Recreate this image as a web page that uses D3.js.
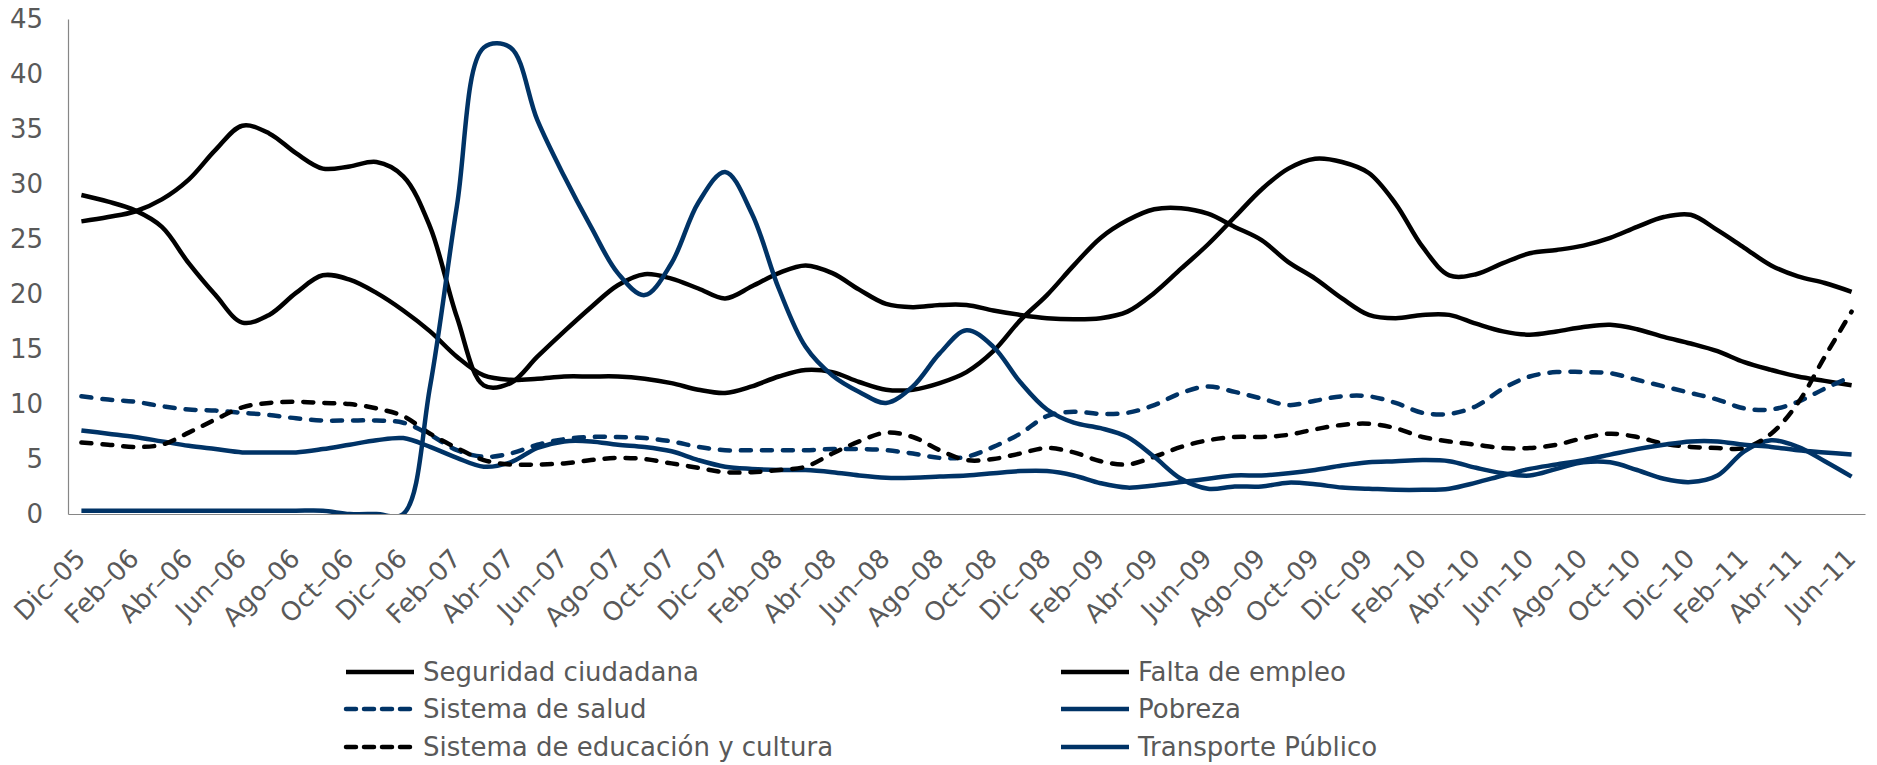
<!DOCTYPE html>
<html>
<head>
<meta charset="utf-8">
<script src="https://cdn.jsdelivr.net/npm/d3@7"></script>
<style>
  body { margin: 0; background: #fff; }
  text { font-family: "DejaVu Sans", sans-serif; }
</style>
</head>
<body>
<div id="chart"></div>
<script>
var width = 1877,
    height = 765,
    plotLeft = 68,
    plotRight = 1865,
    plotTop = 19,
    plotBottom = 514;

// monthly survey, Dic-05 .. Jun-11
var months = [
    "Dic–05",
    "Ene–06", "Feb–06", "Mar–06", "Abr–06", "May–06", "Jun–06", "Jul–06", "Ago–06", "Sep–06", "Oct–06", "Nov–06", "Dic–06",
    "Ene–07", "Feb–07", "Mar–07", "Abr–07", "May–07", "Jun–07", "Jul–07", "Ago–07", "Sep–07", "Oct–07", "Nov–07", "Dic–07",
    "Ene–08", "Feb–08", "Mar–08", "Abr–08", "May–08", "Jun–08", "Jul–08", "Ago–08", "Sep–08", "Oct–08", "Nov–08", "Dic–08",
    "Ene–09", "Feb–09", "Mar–09", "Abr–09", "May–09", "Jun–09", "Jul–09", "Ago–09", "Sep–09", "Oct–09", "Nov–09", "Dic–09",
    "Ene–10", "Feb–10", "Mar–10", "Abr–10", "May–10", "Jun–10", "Jul–10", "Ago–10", "Sep–10", "Oct–10", "Nov–10", "Dic–10",
    "Ene–11", "Feb–11", "Mar–11", "Abr–11", "May–11", "Jun–11"
];

var yTicks = [0, 5, 10, 15, 20, 25, 30, 35, 40, 45];

var seguridad = [26.6, 27.0, 27.5, 28.6, 30.4, 33.1, 35.3, 34.6, 32.8, 31.4,
    31.6, 32.0, 30.7, 26.1, 17.9, 11.7, 11.9, 14.3, 16.6, 18.8,
    20.8, 21.8, 21.4, 20.5, 19.6, 20.7, 21.9, 22.6, 21.9, 20.4,
    19.1, 18.8, 19.0, 19.0, 18.5, 18.1, 17.8, 17.7, 17.8, 18.4,
    20.1, 22.3, 24.5, 27.0, 29.5, 31.4, 32.3, 32.0, 31.0, 28.2,
    24.3, 21.7, 21.8, 22.8, 23.7, 24.0, 24.4, 25.1, 26.1, 27.0,
    27.2, 25.8, 24.2, 22.6, 21.6, 21.0, 20.2];

var falta = [29.0, 28.4, 27.6, 26.1, 22.8, 19.9, 17.4, 18.1, 20.1, 21.7,
    21.3, 20.1, 18.5, 16.6, 14.3, 12.6, 12.2, 12.3, 12.5, 12.5,
    12.5, 12.3, 11.9, 11.3, 11.0, 11.6, 12.5, 13.1, 12.9, 12.0,
    11.3, 11.3, 11.9, 12.9, 14.8, 17.6, 19.9, 22.6, 25.1, 26.7,
    27.7, 27.8, 27.3, 26.1, 24.9, 22.9, 21.4, 19.6, 18.1, 17.8,
    18.1, 18.1, 17.3, 16.6, 16.3, 16.6, 17.0, 17.2, 16.8, 16.1,
    15.5, 14.8, 13.8, 13.1, 12.5, 12.1, 11.7];

var salud = [10.7, 10.4, 10.2, 9.8, 9.5, 9.4, 9.2, 9.0, 8.7, 8.5,
    8.5, 8.5, 8.3, 7.2, 5.8, 5.2, 5.5, 6.3, 6.8, 7.0,
    7.0, 6.9, 6.6, 6.1, 5.8, 5.8, 5.8, 5.8, 5.9, 5.9,
    5.8, 5.5, 5.1, 5.2, 6.1, 7.3, 8.9, 9.3, 9.1, 9.2,
    9.9, 11.0, 11.6, 11.1, 10.5, 9.9, 10.3, 10.7, 10.7, 10.1,
    9.2, 9.1, 9.8, 11.4, 12.5, 12.9, 12.9, 12.8, 12.2, 11.6,
    11.0, 10.4, 9.6, 9.5, 10.2, 11.4, 12.5];

var pobreza = [7.6, 7.3, 7.0, 6.6, 6.2, 5.9, 5.6, 5.6, 5.6, 5.9,
    6.3, 6.7, 6.9, 6.1, 5.1, 4.3, 4.7, 6.0, 6.6, 6.6,
    6.3, 6.1, 5.7, 4.9, 4.3, 4.1, 4.0, 4.0, 3.8, 3.5,
    3.3, 3.3, 3.4, 3.5, 3.7, 3.9, 3.9, 3.5, 2.8, 2.4,
    2.6, 2.9, 3.2, 3.5, 3.5, 3.7, 4.0, 4.4, 4.7, 4.8,
    4.9, 4.8, 4.2, 3.7, 3.5, 4.1, 4.7, 4.7, 4.0, 3.2,
    2.9, 3.5, 5.7, 6.7, 6.1, 4.8, 3.4];

var educacion = [6.5, 6.3, 6.1, 6.3, 7.4, 8.6, 9.7, 10.1, 10.2, 10.1,
    10.0, 9.6, 8.9, 7.3, 6.0, 4.9, 4.5, 4.5, 4.6, 4.9,
    5.1, 5.0, 4.6, 4.2, 3.8, 3.8, 4.0, 4.3, 5.5, 6.6,
    7.4, 7.0, 5.8, 4.9, 5.0, 5.5, 6.0, 5.6, 4.8, 4.5,
    5.2, 6.1, 6.7, 7.0, 7.0, 7.2, 7.7, 8.1, 8.2, 7.8,
    7.0, 6.6, 6.3, 6.0, 6.0, 6.3, 6.9, 7.3, 7.0, 6.4,
    6.1, 6.0, 6.0, 7.3, 10.1, 14.3, 18.4];

var transporte = [0.3, 0.3, 0.3, 0.3, 0.3, 0.3, 0.3, 0.3, 0.3, 0.3,
    0, 0, 0, 11.6, 28.0, 42.4, 42.4, 35.8, 30.7, 26.1,
    21.9, 19.9, 22.8, 28.3, 31.1, 27.3, 20.5, 15.2, 12.6, 11.1,
    10.1, 11.6, 14.6, 16.7, 15.2, 12.0, 9.5, 8.3, 7.8, 7.0,
    5.2, 3.2, 2.3, 2.5, 2.5, 2.85, 2.7, 2.4, 2.3, 2.2,
    2.2, 2.3, 2.85, 3.5, 4.1, 4.5, 4.9, 5.4, 5.9, 6.3,
    6.6, 6.6, 6.3, 6.1, 5.8, 5.6, 5.4];

var navy = "#003366";

var series = [
    {name: "Seguridad ciudadana", values: seguridad, color: "#000", dashed: false},
    {name: "Falta de empleo", values: falta, color: "#000", dashed: false},
    {name: "Sistema de salud", values: salud, color: navy, dashed: true},
    {name: "Pobreza", values: pobreza, color: navy, dashed: false},
    {name: "Sistema de educación y cultura", values: educacion, color: "#000", dashed: true},
    {name: "Transporte Público", values: transporte, color: navy, dashed: false}
];

var x = d3.scalePoint().domain(months).range([plotLeft, plotRight]).padding(0.5);
var y = d3.scaleLinear().domain([0, 45]).range([plotBottom, plotTop]);

var svg = d3.select("#chart").append("svg")
    .attr("width", width)
    .attr("height", height);

svg.append("clipPath")
    .attr("id", "plot_clip")
    .append("rect")
    .attr("x", plotLeft)
    .attr("y", plotTop - 5)
    .attr("width", plotRight - plotLeft)
    .attr("height", plotBottom - plotTop + 5);

// axes
var yAxis = d3.axisLeft(y)
    .tickValues(yTicks)
    .tickSize(0)
    .tickSizeOuter(0)
    .tickPadding(25);

var gy = svg.append("g")
    .attr("transform", "translate(" + plotLeft + ",0)")
    .call(yAxis);

gy.select(".domain").attr("stroke", "#868686").attr("stroke-width", 1.2);
gy.selectAll("text")
    .style("font-size", "26px")
    .attr("fill", "#595959");

var xAxis = d3.axisBottom(x)
    .tickValues(months.filter(function (d, i) { return i % 2 === 0; }))
    .tickSize(0)
    .tickSizeOuter(0);

var gx = svg.append("g")
    .attr("transform", "translate(0," + plotBottom + ")")
    .call(xAxis);

gx.select(".domain").attr("stroke", "#868686").attr("stroke-width", 1.2);
gx.selectAll("text")
    .style("font-size", "26px")
    .attr("fill", "#595959")
    .attr("x", 0)
    .attr("y", 0)
    .attr("dy", 0)
    .attr("text-anchor", "end")
    .attr("transform", "translate(5,46) rotate(-45)");

// lines
var line = d3.line()
    .x(function (d, i) { return x(months[i]); })
    .y(function (d) { return y(d); })
    .curve(d3.curveCatmullRom.alpha(0.5));

svg.append("g")
    .attr("clip-path", "url(#plot_clip)")
    .selectAll("path")
    .data(series)
    .enter().append("path")
    .attr("d", function (d) { return line(d.values); })
    .attr("fill", "none")
    .attr("stroke", function (d) { return d.color; })
    .attr("stroke-width", 4.5)
    .attr("stroke-linecap", function (d) { return d.dashed ? "round" : "butt"; })
    .attr("stroke-dasharray", function (d) { return d.dashed ? "10,11" : null; });

// legend, two columns, filled row by row
var legendCols = [346, 1061],
    legendRows = [672, 709, 747];

var legend = svg.append("g")
    .selectAll("g")
    .data(series)
    .enter().append("g")
    .attr("transform", function (d, i) {
        return "translate(" + legendCols[i % 2] + "," + legendRows[Math.floor(i / 2)] + ")";
    });

legend.append("line")
    .attr("x1", 0)
    .attr("x2", 68)
    .attr("stroke", function (d) { return d.color; })
    .attr("stroke-width", 4.5)
    .attr("stroke-linecap", function (d) { return d.dashed ? "round" : "butt"; })
    .attr("stroke-dasharray", function (d) { return d.dashed ? "10,8" : null; });

legend.append("text")
    .attr("x", 77)
    .attr("dy", "0.36em")
    .style("font-size", "26px")
    .attr("fill", "#595959")
    .text(function (d) { return d.name; });
</script>
</body>
</html>
